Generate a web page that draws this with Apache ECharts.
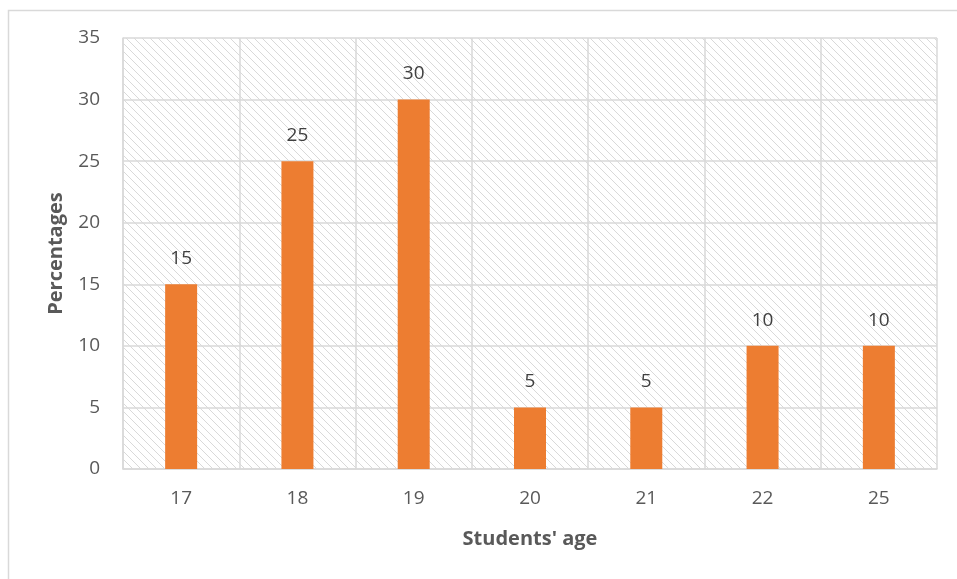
<!DOCTYPE html>
<html>
<head>
<meta charset="utf-8">
<script src="https://cdn.jsdelivr.net/npm/echarts@6/dist/echarts.min.js"></script>
<style>
  html, body { margin: 0; padding: 0; background: #fff; }
  #chart { width: 957px; height: 579px; }
</style>
</head>
<body>
<div id="chart"></div>
<script>
// Age groups and share of students in each
const ages = ['17', '18', '19', '20', '21', '22', '25'];
const percentages = [15, 25, 30, 5, 5, 10, 10];
const yTicks = { min: 0, max: 35, interval: 5 };

// Light diagonal hatch tile for the plot background
function hatchTile() {
  const size = 8;
  const c = document.createElement('canvas');
  c.width = size; c.height = size;
  const ctx = c.getContext('2d');
  ctx.fillStyle = '#ffffff';
  ctx.fillRect(0, 0, size, size);
  ctx.strokeStyle = '#d9d9d9';
  ctx.lineWidth = 1;
  ctx.beginPath();
  for (let k = -size; k <= size; k += size) {
    ctx.moveTo(k - 1, -1);
    ctx.lineTo(k + size + 1, size + 1);
  }
  ctx.stroke();
  return c;
}

const chart = echarts.init(document.getElementById('chart'), null, { renderer: 'canvas' });
const font = "'Open Sans', 'Liberation Sans', sans-serif";

chart.setOption({
  animation: false,
  backgroundColor: '#ffffff',
  graphic: [{
    type: 'rect',
    left: 6, top: 8,
    shape: { width: 980, height: 600 },
    style: { fill: 'none', stroke: '#d9d9d9', lineWidth: 1.5 },
    silent: true
  }],
  grid: {
    left: 123, right: 20, top: 38, bottom: 110,
    show: true,
    borderWidth: 0,
    backgroundColor: { image: hatchTile(), repeat: 'repeat' }
  },
  xAxis: {
    type: 'category',
    data: ages,
    name: "Students' age",
    nameLocation: 'middle',
    nameGap: 60,
    nameTextStyle: { fontFamily: font, fontSize: 20, fontWeight: 'bold', color: '#595959' },
    axisLine: { lineStyle: { color: '#d9d9d9', width: 1.5 } },
    axisTick: { show: false },
    axisLabel: { fontFamily: font, fontSize: 19, color: '#595959', margin: 20 },
    splitLine: { show: true, lineStyle: { color: '#d9d9d9', width: 1.5 } }
  },
  yAxis: {
    type: 'value',
    min: yTicks.min, max: yTicks.max, interval: yTicks.interval,
    name: 'Percentages',
    nameLocation: 'middle',
    nameGap: 57,
    nameTextStyle: { fontFamily: font, fontSize: 20, fontWeight: 'bold', color: '#595959' },
    axisLine: { show: true, lineStyle: { color: '#d9d9d9', width: 1.5 } },
    axisTick: { show: false },
    axisLabel: { fontFamily: font, fontSize: 19, color: '#595959', margin: 23 },
    splitLine: { show: true, lineStyle: { color: '#d9d9d9', width: 1.5 } }
  },
  series: [{
    type: 'bar',
    data: percentages,
    barWidth: 32,
    itemStyle: { color: '#ed7d31' },
    label: {
      show: true,
      position: 'top',
      distance: 16,
      fontFamily: font,
      fontSize: 19,
      color: '#404040'
    }
  }]
});
</script>
</body>
</html>
